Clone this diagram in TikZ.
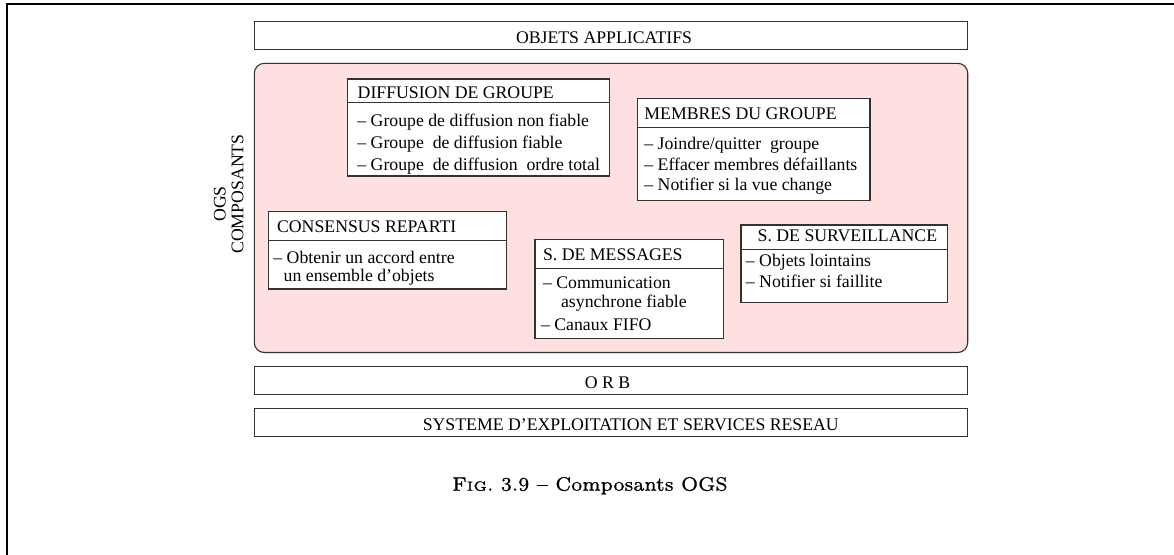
\documentclass[tikz,border=0pt]{standalone}
\usepackage{fontspec}
\newfontfamily\tnr[Ligatures=TeX]{Liberation Serif}
\newfontfamily\capfont[Ligatures=TeX,RawFeature={embolden=0.8}]{lmroman7-regular.otf}
\newfontfamily\capsmall[Ligatures=TeX,RawFeature={embolden=0.8}]{lmroman5-regular.otf}
\definecolor{pinkbg}{RGB}{255,224,225}
\definecolor{edgegray}{RGB}{50,50,50}
\begin{document}
\begin{tikzpicture}[x=0.5pt,y=-0.5pt,
  every node/.style={inner sep=0pt,font=\tnr\fontsize{8.87}{10.85}\selectfont},
  boxline/.style={draw=edgegray,line width=0.55pt},
  txt/.style={anchor=base west},
  ctxt/.style={anchor=base}]
\useasboundingbox (0,0) rectangle (1174,554);
% outer frame (only top and left visible)
\draw[line width=0.9pt] (6.8,570) -- (6.8,3.8) -- (1190,3.8);
% layers
\draw[boxline,fill=white] (254.3,21.7) rectangle (967.7,49.7);
\node[ctxt] (obj) at (604,43.3) {OBJETS APPLICATIFS};
\draw[boxline,fill=pinkbg,rounded corners=5pt] (254.3,63.3) rectangle (967.7,352.5);
\draw[boxline,fill=white] (254.3,366.7) rectangle (967.7,394.3);
\node[ctxt] (orb) at (607.5,388.3) {O R B};
\draw[boxline,fill=white] (254.3,408.8) rectangle (967.7,436.7);
\node[ctxt] (sys) at (630.8,430.7) {SYSTEME D’EXPLOITATION ET SERVICES RESEAU};
% OGS label
\node[ctxt,rotate=90] (ogs) at (225.7,204) {OGS};
\node[ctxt,rotate=90] (comp) at (243.3,194) {COMPOSANTS};
% Diffusion de groupe
\draw[boxline,fill=white] (347.3,79) rectangle (609.3,176);
\draw[boxline] (347.3,102.7) -- (609.3,102.7);
\node[txt] (dh) at (357.3,98.3) {DIFFUSION DE GROUPE};
\node[txt] (d1) at (357,126.7) {\textendash\ Groupe de diffusion non fiable};
\node[txt] (d2) at (357,148.3) {\textendash\ Groupe\ \ de diffusion fiable};
\node[txt] (d3) at (357,170) {\textendash\ Groupe\ \ de diffusion\ \ ordre total};
% Membres du groupe
\draw[boxline,fill=white] (637.3,98.3) rectangle (870,200.7);
\draw[boxline] (637.3,127.3) -- (870,127.3);
\node[txt] (mh) at (644,119.3) {MEMBRES DU GROUPE};
\node[txt] (m1) at (644,149.3) {\textendash\ Joindre/quitter\ \ groupe};
\node[txt] (m2) at (644,170) {\textendash\ Effacer membres défaillants};
\node[txt] (m3) at (644,190.7) {\textendash\ Notifier si la vue change};
% Consensus reparti
\draw[boxline,fill=white] (268.3,211.7) rectangle (506.7,289);
\draw[boxline] (268.3,240.7) -- (506.7,240.7);
\node[txt] (ch) at (276.7,232.7) {CONSENSUS REPARTI};
\node[txt] (c1) at (273,263.3) {\textendash\ Obtenir un accord entre};
\node[txt] (c2) at (283.3,281.7) {un ensemble d’objets};
% S. de messages
\draw[boxline,fill=white] (535,239.3) rectangle (723.3,338.3);
\draw[boxline] (535,268.3) -- (723.3,268.3);
\node[txt] (sh) at (542.7,260) {S. DE MESSAGES};
\node[txt] (s1) at (542.7,288.3) {\textendash\ Communication};
\node[txt] (s2) at (560.7,307.3) {asynchrone fiable};
\node[txt] (s3) at (540.7,330) {\textendash\ Canaux FIFO};
% S. de surveillance
\draw[boxline,fill=white] (741,225) rectangle (947.3,302.3);
\draw[boxline] (741,249.3) -- (947.3,249.3);
\node[txt] (vh) at (757.3,241) {S. DE SURVEILLANCE};
\node[txt] (v1) at (745.5,266.7) {\textendash\ Objets lointains};
\node[txt] (v2) at (745.5,287.7) {\textendash\ Notifier si faillite};
% caption
\node[ctxt,font=\capfont\fontsize{7}{8}\selectfont,scale=1.39] (cap) at (590,490.7)
  {F{\capsmall\fontsize{4.8}{5}\selectfont IG}. 3.9 -- Composants OGS};
\end{tikzpicture}
\end{document}
